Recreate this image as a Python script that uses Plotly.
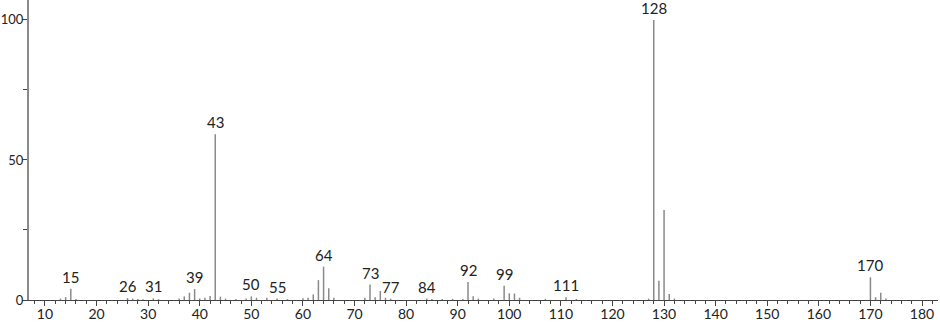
import plotly.graph_objects as go

mz = [13, 14, 15, 16, 26, 27, 28, 29, 31, 32, 36, 37, 38, 39, 40, 41, 42, 43, 44, 45,
      47, 49, 50, 51, 53, 55, 57, 60, 61, 62, 63, 64, 65, 66, 72, 73, 74, 75, 76, 77,
      84, 85, 87, 89, 91, 92, 93, 94, 97, 99, 100, 101, 102, 107, 111, 113,
      127, 128, 129, 130, 131, 132, 171, 170, 172, 173]
intensity = [0.5, 1.0, 4.0, 0.4, 0.7, 0.5, 0.4, 0.3, 0.6, 0.3, 0.5, 1.3, 2.6, 3.9, 0.5, 0.8, 1.4, 59.2, 1.2, 0.5,
             0.4, 0.5, 1.3, 0.8, 0.8, 0.5, 0.3, 0.6, 0.8, 2.0, 7.1, 11.9, 4.2, 0.8, 0.8, 5.5, 1.0, 3.2, 0.8, 0.5,
             0.5, 0.4, 0.4, 0.4, 0.4, 6.4, 1.3, 0.5, 0.5, 5.1, 2.4, 2.3, 0.8, 0.4, 1.0, 0.4,
             0.5, 100.0, 6.9, 32.1, 2.1, 0.5, 1.0, 8.1, 2.6, 0.5]
label_mz = [15, 26, 31, 39, 43, 50, 55, 64, 73, 77, 84, 92, 99, 111, 128, 170]
x_ticks = [10, 20, 30, 40, 50, 60, 70, 80, 90, 100, 110, 120, 130, 140, 150, 160, 170, 180]
y_ticks = [0, 50, 100]

xs, ys = [], []
for m, v in zip(mz, intensity):
    xs += [m, m, None]
    ys += [0, v, None]

fig = go.Figure()
fig.add_trace(go.Scatter(x=xs, y=ys, mode="lines",
                         line=dict(color="#8a8a8a", width=1.5),
                         hoverinfo="skip", showlegend=False, cliponaxis=False))

lookup = dict(zip(mz, intensity))
for m in label_mz:
    fig.add_annotation(x=m, y=lookup[m], text=str(m), showarrow=False,
                       yanchor="bottom", yshift=1,
                       font=dict(family="Lato", size=15, color="#222"))

fig.update_layout(
    width=940, height=322,
    margin=dict(l=29, r=2, t=0, b=22, autoexpand=False),
    paper_bgcolor="white", plot_bgcolor="white",
    xaxis=dict(range=[6.9, 183.1], tickvals=x_ticks, ticks="outside", ticklen=5,
               tickcolor="#444", showline=True, linecolor="#444", linewidth=1,
               showgrid=False, zeroline=False, automargin=False,
               ticklabelstandoff=-4,
               tickfont=dict(family="Lato", size=14, color="#222"),
               minor=dict(dtick=2, tick0=0, ticks="outside", ticklen=3, tickcolor="#444")),
    yaxis=dict(range=[0, 107.1], tickvals=y_ticks, ticks="outside", ticklen=5,
               tickcolor="#444", showline=True, linecolor="#8a8a8a", linewidth=2,
               showgrid=False, zeroline=False, automargin=False,
               ticklabelstandoff=-4,
               tickfont=dict(family="Lato", size=13, color="#222"),
               minor=dict(tickvals=[25, 75], ticks="outside", ticklen=4, tickcolor="#444")),
)

fig.write_html("out.html")
